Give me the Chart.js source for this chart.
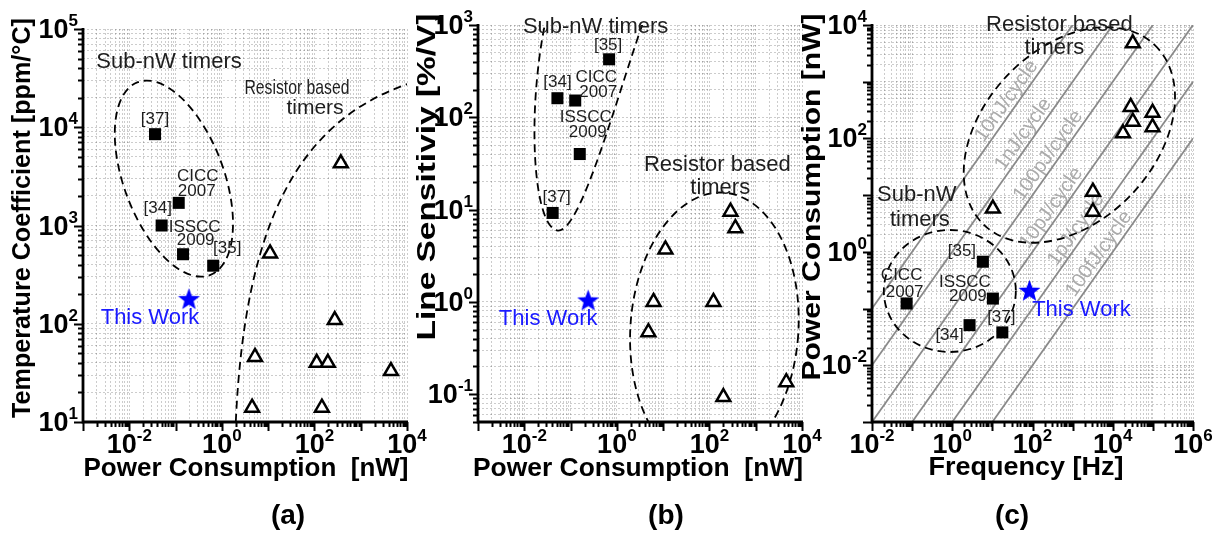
<!DOCTYPE html>
<html>
<head>
<meta charset="utf-8">
<script src="https://cdn.jsdelivr.net/npm/chart.js@4.4.1/dist/chart.umd.min.js"></script>
<style>
  body { margin: 0; background: #fff; }
  #wrap { position: relative; width: 1220px; height: 535px; }
  #wrap canvas { position: absolute; left: 0; top: 0; }
</style>
</head>
<body>
<div id="wrap">
  <canvas id="chartA" width="1220" height="535"></canvas>
  <canvas id="chartB" width="1220" height="535"></canvas>
  <canvas id="chartC" width="1220" height="535"></canvas>
</div>
<script>
const FONT = '"Liberation Sans", Arial, Helvetica, sans-serif';

// (a) temperature coefficient vs power
const aSubPower  = [0.036, 0.117, 0.05, 0.145, 0.65];
const aSubTC     = [8500, 1700, 1000, 510, 390];
const aResPower  = [372, 11, 275, 5.2, 112, 195, 4500, 4.5, 145];
const aResTC     = [4300, 520, 109, 46, 40, 40, 33, 14, 14];
const aWorkPower = [0.195];
const aWorkTC    = [180];
const aXTickExp  = [-2, 0, 2, 4];
const aYTickExp  = [1, 2, 3, 4, 5];

// (b) line sensitivity vs power
const bSubPower  = [0.68, 0.052, 0.126, 0.158, 0.041];
const bSubLS     = [425, 161, 152, 40, 9.2];
const bResPower  = [285, 363, 11.2, 6.2, 4.8, 122, 200, 4570];
const bResLS     = [9.5, 6.3, 3.7, 1.0, 0.47, 1.0, 0.093, 0.135];
const bWorkPower = [0.24];
const bWorkLS    = [1.05];
const bXTickExp  = [-2, 0, 2, 4];
const bYTickExp  = [-1, 0, 1, 2, 3];

// (c) power vs frequency, with constant energy-per-cycle lines
const cSubFreq   = [5.8, 10.3, 0.073, 2.7, 17.7];
const cSubPower  = [0.67, 0.15, 0.123, 0.051, 0.038];
const cResFreq   = [10.3, 3200, 3200, 31600, 28000, 31600, 18000, 98000, 98000];
const cResPower  = [5.8, 11.5, 5.1, 4750, 360, 197, 123, 285, 158];
const cWorkFreq  = [84];
const cWorkPower = [0.21];
const cycleEnergy    = [1e-8, 1e-9, 1e-10, 1e-11, 1e-12, 1e-13]; // J per cycle
const cycleLabels    = ['10nJ/cycle', '1nJ/cycle', '100pJ/cycle', '10pJ/cycle', '1pJ/cycle', '100fJ/cycle'];
const cycleLabelFreq = [36, 94, 395, 470, 1960, 7300];
const cXTickExp  = [-2, 0, 2, 4, 6];
const cYTickExp  = [-2, 0, 2, 4];

function pts(xs, ys) { return xs.map((v, i) => ({ x: v, y: ys[i] })); }

function logTicks(min, max) {
  const out = [];
  for (let e = Math.floor(Math.log10(min)); e <= Math.ceil(Math.log10(max)); e++) {
    for (let m = 1; m < 10; m++) {
      const v = m * Math.pow(10, e);
      if (v >= min * 0.999 && v <= max * 1.001) out.push({ value: v });
    }
  }
  return out;
}

function isDecade(v) {
  const l = Math.log10(v);
  return Math.abs(l - Math.round(l)) < 1e-6;
}

function starImage(size, color) {
  const c = document.createElement('canvas');
  c.width = c.height = size;
  const g = c.getContext('2d');
  const R = size / 2, r = R * 0.42, cx = size / 2, cy = size / 2 + R * 0.095;
  g.fillStyle = color;
  g.beginPath();
  for (let i = 0; i < 10; i++) {
    const a = -Math.PI / 2 + i * Math.PI / 5;
    const rad = i % 2 ? r : R;
    g.lineTo(cx + rad * Math.cos(a), cy + rad * Math.sin(a));
  }
  g.closePath();
  g.fill();
  return c;
}
const STAR = starImage(23, '#0000ff');

function text(ctx, str, x, y, o) {
  ctx.save();
  ctx.font = o.font;
  ctx.fillStyle = o.color || '#000';
  ctx.textAlign = o.align || 'center';
  ctx.textBaseline = o.baseline || 'middle';
  ctx.translate(x, y);
  if (o.rotate) ctx.rotate(o.rotate);
  if (o.width) ctx.scale(o.width / ctx.measureText(str).width, 1);
  ctx.fillText(str, 0, 0);
  ctx.restore();
}

// "10" with a raised exponent
function powLabel(ctx, exp, x, y, align) {
  const base = '10', sup = exp < 0 ? '-' + (-exp) : String(exp);
  ctx.font = 'bold 27px ' + FONT;
  const wb = ctx.measureText(base).width;
  ctx.font = 'bold 17px ' + FONT;
  const ws = ctx.measureText(sup).width;
  const left = align === 'center' ? x - (wb + ws) / 2 : x - wb - ws;
  ctx.fillStyle = '#000';
  ctx.textAlign = 'left';
  ctx.textBaseline = 'alphabetic';
  ctx.font = 'bold 27px ' + FONT;
  ctx.fillText(base, left, y);
  ctx.font = 'bold 17px ' + FONT;
  ctx.fillText(sup, left + wb, y - 12);
}

function drawAxes(chart, p) {
  const { ctx, chartArea: ca } = chart;
  const xs = chart.scales.x, ys = chart.scales.y;
  ctx.save();
  ctx.strokeStyle = '#000';
  ctx.lineWidth = 2;
  ctx.beginPath();
  xs.ticks.forEach(t => {
    const px = Math.round(xs.getPixelForValue(t.value)) + 0.5;
    ctx.moveTo(px, ca.bottom);
    ctx.lineTo(px, ca.bottom + (isDecade(t.value) ? 9 : 5));
  });
  ys.ticks.forEach(t => {
    const py = Math.round(ys.getPixelForValue(t.value)) + 0.5;
    ctx.moveTo(ca.left, py);
    ctx.lineTo(ca.left - (isDecade(t.value) ? 9 : 5), py);
  });
  ctx.stroke();
  ctx.lineWidth = 2.8;
  ctx.beginPath();
  ctx.moveTo(ca.left, ca.top - 1);
  ctx.lineTo(ca.left, ca.bottom);
  ctx.lineTo(ca.right + 1, ca.bottom);
  ctx.stroke();

  p.xExp.forEach(e => powLabel(ctx, e, xs.getPixelForValue(Math.pow(10, e)), 453, 'center'));
  p.yExp.forEach(e => powLabel(ctx, e, ca.left - 5, ys.getPixelForValue(Math.pow(10, e)) + 9, 'right'));

  const tf = 'bold 26px ' + FONT;
  text(ctx, p.xTitle.text, p.xTitle.cx, p.xTitle.cy, { font: tf, width: p.xTitle.w });
  text(ctx, p.yTitle.text, p.yTitle.cx, p.yTitle.cy, { font: tf, width: p.yTitle.w, rotate: -Math.PI / 2 });
  text(ctx, p.tag.text, p.tag.cx, p.tag.cy, { font: 'bold 28px ' + FONT });
  ctx.restore();
}

function drawOutlines(chart, p) {
  const { ctx, chartArea: ca } = chart;
  const xs = chart.scales.x, ys = chart.scales.y;
  const px = v => xs.getPixelForValue(v), py = v => ys.getPixelForValue(v);
  ctx.save();
  ctx.beginPath();
  ctx.rect(ca.left, ca.top, ca.width, ca.height);
  ctx.clip();
  ctx.strokeStyle = '#000';
  ctx.lineWidth = 1.8;
  ctx.setLineDash([8, 5]);
  (p.ellipses || []).forEach(el => {
    ctx.beginPath();
    ctx.ellipse(px(el.x), py(el.y), el.rx, el.ry, el.rot * Math.PI / 180, 0, Math.PI * 2);
    ctx.stroke();
  });
  (p.curves || []).forEach(c => {
    ctx.beginPath();
    ctx.moveTo(px(c[0][0]), py(c[0][1]));
    for (let i = 1; i + 2 < c.length; i += 3) {
      ctx.bezierCurveTo(px(c[i][0]), py(c[i][1]), px(c[i + 1][0]), py(c[i + 1][1]), px(c[i + 2][0]), py(c[i + 2][1]));
    }
    ctx.stroke();
  });
  ctx.restore();
}

function drawNotes(chart, p) {
  const ctx = chart.ctx;
  const xs = chart.scales.x, ys = chart.scales.y;
  p.notes.forEach(n => {
    let x, y;
    if (n.ds) {
      const d = p.sets[n.ds][n.i];
      x = xs.getPixelForValue(d.x) + n.dx;
      y = ys.getPixelForValue(d.y) + n.dy;
    } else {
      x = xs.getPixelForValue(n.x);
      y = ys.getPixelForValue(n.y);
    }
    text(ctx, n.text, x, y, { font: (n.size || 17) + 'px ' + FONT, color: n.color || '#1e1e1e', width: n.w });
  });
}

function drawCycleLabels(chart) {
  const ctx = chart.ctx;
  const xs = chart.scales.x, ys = chart.scales.y;
  cycleEnergy.forEach((E, i) => {
    const f = cycleLabelFreq[i];
    const x0 = xs.getPixelForValue(f), y0 = ys.getPixelForValue(E * 1e9 * f);
    const x1 = xs.getPixelForValue(f * 10), y1 = ys.getPixelForValue(E * 1e9 * f * 10);
    const ang = Math.atan2(y1 - y0, x1 - x0);
    text(ctx, cycleLabels[i], x0, y0, { font: '20px ' + FONT, color: '#ababab', rotate: ang, baseline: 'bottom' });
  });
}

function decoPlugin(p) {
  return {
    id: 'deco',
    beforeDatasetsDraw(chart) { if (p.cycles) drawCycleLabels(chart); },
    afterDatasetsDraw(chart) { drawOutlines(chart, p); drawNotes(chart, p); },
    afterDraw(chart) { drawAxes(chart, p); }
  };
}

function logAxis(min, max) {
  return {
    type: 'logarithmic',
    min: min,
    max: max,
    afterBuildTicks: s => { s.ticks = logTicks(min, max); },
    ticks: { display: false },
    grid: { color: 'rgba(0,0,0,0.2)', lineWidth: 1, drawTicks: false },
    border: { display: false, dash: [2, 2] }
  };
}

function makePanel(p) {
  const datasets = [
    { data: p.sets.sub, pointStyle: 'rect', pointRadius: 8.5, backgroundColor: '#000', borderColor: '#000', borderWidth: 0 },
    { data: p.sets.res, pointStyle: 'triangle', pointRadius: 8, backgroundColor: '#fff', borderColor: '#000', borderWidth: 2.5 },
    { data: p.sets.work, pointStyle: STAR, pointRadius: 11 }
  ];
  if (p.cycles) {
    cycleEnergy.forEach(E => {
      datasets.push({
        data: [{ x: p.x[0], y: E * 1e9 * p.x[0] }, { x: p.x[1], y: E * 1e9 * p.x[1] }],
        showLine: true, pointRadius: 0, borderColor: '#8a8a8a', borderWidth: 1.8
      });
    });
  }
  new Chart(document.getElementById(p.id), {
    type: 'scatter',
    data: { datasets: datasets },
    options: {
      responsive: false,
      animation: false,
      devicePixelRatio: 1,
      events: [],
      layout: { padding: p.pad },
      plugins: { legend: { display: false }, tooltip: { enabled: false } },
      scales: { x: logAxis(p.x[0], p.x[1]), y: logAxis(p.y[0], p.y[1]) }
    },
    plugins: [decoPlugin(p)]
  });
}

makePanel({
  id: 'chartA',
  pad: { left: 83, top: 29, right: 1220 - 407, bottom: 535 - 422 },
  x: [1e-3, 1e4], y: [10, 1e5],
  sets: { sub: pts(aSubPower, aSubTC), res: pts(aResPower, aResTC), work: pts(aWorkPower, aWorkTC) },
  xExp: aXTickExp, yExp: aYTickExp,
  xTitle: { text: 'Power Consumption  [nW]', cx: 246, cy: 469, w: 325 },
  yTitle: { text: 'Temperature Coefficient [ppm/°C]', cx: 23, cy: 218, w: 400 },
  tag: { text: '(a)', cx: 288, cy: 516 },
  ellipses: [{ x: 0.092, y: 3000, rx: 50, ry: 103, rot: -20.5 }],
  curves: [[[2.0, 10], [3.16, 1135], [48.6, 11800], [11500, 28000]]],
  notes: [
    { text: 'Sub-nW timers', x: 0.072, y: 46100, size: 22 },
    { text: 'Resistor based', x: 42, y: 25100, size: 21, w: 105 },
    { text: 'timers', x: 103, y: 15700, size: 21 },
    { text: '[37]', ds: 'sub', i: 0, dx: 0, dy: -15 },
    { text: 'CICC', ds: 'sub', i: 1, dx: 19, dy: -27 },
    { text: '2007', ds: 'sub', i: 1, dx: 18, dy: -12 },
    { text: '[34]', ds: 'sub', i: 1, dx: -21, dy: 5 },
    { text: 'ISSCC', ds: 'sub', i: 2, dx: 33, dy: 2 },
    { text: '2009', ds: 'sub', i: 2, dx: 34, dy: 15 },
    { text: '[35]', ds: 'sub', i: 4, dx: 14, dy: -17 },
    { text: 'This Work', ds: 'work', i: 0, dx: -39, dy: 19, size: 22, color: '#1a1aff' }
  ]
});

makePanel({
  id: 'chartB',
  pad: { left: 478, top: 25, right: 1220 - 802, bottom: 535 - 422 },
  x: [1e-3, 1e4], y: [0.05, 1e3],
  sets: { sub: pts(bSubPower, bSubLS), res: pts(bResPower, bResLS), work: pts(bWorkPower, bWorkLS) },
  xExp: bXTickExp, yExp: bYTickExp,
  xTitle: { text: 'Power Consumption  [nW]', cx: 638, cy: 469, w: 330 },
  yTitle: { text: 'Line Sensitiviy [%/V]', cx: 428, cy: 177, w: 327 },
  tag: { text: '(b)', cx: 666, cy: 516 },
  ellipses: [{ x: 128, y: 0.505, rx: 84, ry: 137, rot: 4 }],
  curves: [[[0.0307, 1283], [0.0108, 120.5], [0.0153, 6.38], [0.053, 5.93], [0.166, 5.64], [0.942, 154.6], [4.18, 1283]]],
  notes: [
    { text: 'Sub-nW timers', x: 0.348, y: 951, size: 22 },
    { text: 'Resistor based', x: 147.6, y: 30.6, size: 22 },
    { text: 'timers', x: 171, y: 17.3, size: 22 },
    { text: '[35]', ds: 'sub', i: 0, dx: -1, dy: -14 },
    { text: '[34]', ds: 'sub', i: 1, dx: 0, dy: -16 },
    { text: 'CICC', ds: 'sub', i: 2, dx: 21, dy: -23 },
    { text: '2007', ds: 'sub', i: 2, dx: 23, dy: -8 },
    { text: 'ISSCC', ds: 'sub', i: 3, dx: 6, dy: -37 },
    { text: '2009', ds: 'sub', i: 3, dx: 8, dy: -22 },
    { text: '[37]', ds: 'sub', i: 4, dx: 4, dy: -16 },
    { text: 'This Work', ds: 'work', i: 0, dx: -40, dy: 19, size: 22, color: '#1a1aff' }
  ]
});

makePanel({
  id: 'chartC',
  pad: { left: 872, top: 25, right: 1220 - 1193, bottom: 535 - 422 },
  x: [1e-2, 1e6], y: [1e-3, 1e4],
  cycles: true,
  sets: { sub: pts(cSubFreq, cSubPower), res: pts(cResFreq, cResPower), work: pts(cWorkFreq, cWorkPower) },
  xExp: cXTickExp, yExp: cYTickExp,
  xTitle: { text: 'Frequency [Hz]', cx: 1026, cy: 468, w: 195 },
  yTitle: { text: 'Power Consumption [nW]', cx: 813, cy: 197, w: 367 },
  tag: { text: '(c)', cx: 1012, cy: 516 },
  ellipses: [
    { x: 830, y: 115, rx: 124, ry: 86, rot: -46.6 },
    { x: 0.87, y: 0.204, rx: 66, ry: 61, rot: 0 }
  ],
  notes: [
    { text: 'Resistor based', x: 469, y: 10000, size: 22 },
    { text: 'timers', x: 352, y: 3930, size: 22 },
    { text: 'Sub-nW', x: 0.131, y: 10.05, size: 22 },
    { text: 'timers', x: 0.156, y: 3.64, size: 22 },
    { text: '[35]', ds: 'sub', i: 0, dx: -21, dy: -10 },
    { text: 'CICC', ds: 'sub', i: 2, dx: -5, dy: -28 },
    { text: '2007', ds: 'sub', i: 2, dx: -2, dy: -11 },
    { text: 'ISSCC', ds: 'sub', i: 1, dx: -28, dy: -16 },
    { text: '2009', ds: 'sub', i: 1, dx: -25, dy: -2 },
    { text: '[37]', ds: 'sub', i: 4, dx: -1, dy: -15 },
    { text: '[34]', ds: 'sub', i: 3, dx: -20, dy: 10 },
    { text: 'This Work', ds: 'work', i: 0, dx: 52, dy: 20, size: 22, color: '#1a1aff' }
  ]
});
</script>
</body>
</html>
